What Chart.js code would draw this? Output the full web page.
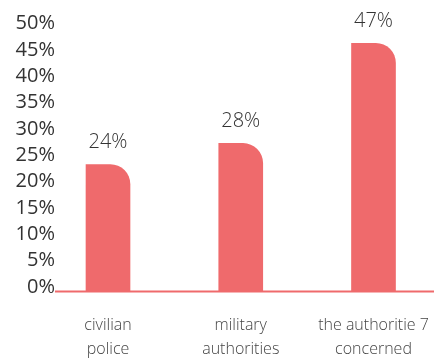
<!DOCTYPE html>
<html>
<head>
<meta charset="utf-8">
<script src="https://cdn.jsdelivr.net/npm/chart.js@4/dist/chart.umd.min.js"></script>
<style>
  html, body { margin: 0; padding: 0; background: #fff; overflow: hidden; }
  #wrap { width: 434px; height: 358px; }
</style>
</head>
<body>
<div id="wrap"><canvas id="chart"></canvas></div>
<script>
const categories = [
  ['civilian', 'police'],
  ['military', 'authorities'],
  ['the authoritie 7', 'concerned']
];
const shares = [24, 28, 47];
const yTicks = [0, 5, 10, 15, 20, 25, 30, 35, 40, 45, 50];

const BAR_COLOR = '#EF6A6C';
const TEXT_COLOR = '#333333';
const Y_LABEL_GAP = 53;   // distance from tick labels to first bar centre

// value labels above each bar
const valueLabels = {
  id: 'valueLabels',
  afterDatasetsDraw(chart) {
    const { ctx } = chart;
    const meta = chart.getDatasetMeta(0);
    ctx.save();
    ctx.font = '300 20px "Open Sans", sans-serif';
    ctx.fillStyle = TEXT_COLOR;
    ctx.textAlign = 'center';
    ctx.textBaseline = 'middle';
    meta.data.forEach((bar, i) => {
      ctx.fillText(shares[i] + '%', bar.x, bar.y - 22);
    });
    ctx.restore();
  }
};

// red baseline under the bars, starting just after the tick labels
const baseline = {
  id: 'baseline',
  afterDatasetsDraw(chart) {
    const { ctx, scales } = chart;
    const y = scales.y.getPixelForValue(0) + 0.5;
    ctx.save();
    ctx.strokeStyle = BAR_COLOR;
    ctx.lineWidth = 2;
    ctx.beginPath();
    ctx.moveTo(scales.y.right - Y_LABEL_GAP, y);
    ctx.lineTo(chart.width, y);
    ctx.stroke();
    ctx.restore();
  }
};

new Chart(document.getElementById('chart'), {
  type: 'bar',
  data: {
    labels: categories,
    datasets: [{
      data: shares,
      backgroundColor: BAR_COLOR,
      barThickness: 44,
      borderRadius: { topLeft: 0, topRight: 20, bottomLeft: 0, bottomRight: 0 },
      borderSkipped: 'start',
      clip: false
    }]
  },
  options: {
    responsive: true,
    maintainAspectRatio: false,
    animation: false,
    layout: { padding: { top: 27.5, left: 0, right: 60.5, bottom: 0 } },
    plugins: { legend: { display: false }, tooltip: { enabled: false } },
    scales: {
      x: {
        offset: false,
        grid: { display: false, drawTicks: false },
        border: { display: false },
        ticks: {
          color: '#444',
          font: { family: '"Open Sans", sans-serif', size: 16, weight: '300', lineHeight: 1.5 },
          padding: 22,
          maxRotation: 0,
          autoSkip: false
        },
        afterFit: s => {
          s.height = 67;
          s.paddingLeft = 0;
          s.paddingRight = 0;
        }
      },
      y: {
        min: 0,
        max: 50,
        afterBuildTicks: s => { s.ticks = yTicks.map(v => ({ value: v })); },
        grid: { display: false, drawTicks: false },
        border: { display: false },
        ticks: {
          color: TEXT_COLOR,
          font: { family: '"Open Sans", sans-serif', size: 20 },
          padding: Y_LABEL_GAP,
          labelOffset: -4,
          autoSkip: false,
          callback: v => v + '%'
        },
        afterFit: s => {
          s.width = 108;
          s.paddingTop = 0;
          s.paddingBottom = 0;
        }
      }
    }
  },
  plugins: [baseline, valueLabels]
});
</script>
</body>
</html>
